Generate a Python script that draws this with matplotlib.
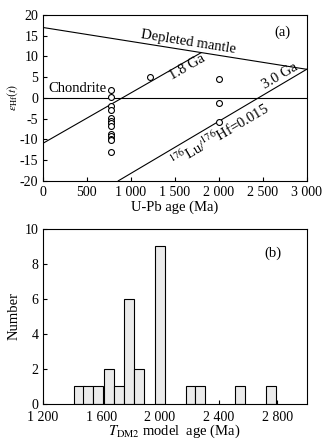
import numpy as np
import matplotlib
matplotlib.use("Agg")
import matplotlib.pyplot as plt
from matplotlib.ticker import FuncFormatter, MultipleLocator

plt.rcParams['font.family'] = ['Liberation Serif', 'DejaVu Serif']
plt.rcParams['mathtext.fontset'] = 'stix'
plt.rcParams['font.size'] = 10

# (a) zircon Hf data
age_pts = [780, 780, 780, 780, 780, 780, 780, 780, 780, 780, 780, 780, 780,
           1220, 2000, 2000, 2000]
ehf_pts = [1.8, 0.1, -1.9, -2.9, -4.9, -5.5, -6.0, -6.7, -8.8, -9.3, -9.8, -10.2, -13.1,
           5.1, 4.5, -1.2, -5.7]

# reference lines
dm_x = [0, 3000]
dm_y = [17.0, 6.9]
ga18_x = [0, 1800]
ga18_y = [-11.0, 10.9]
ga30_x = [860, 3000]
ga30_y = [-20.0, 6.9]

# (b) TDM2 histogram
bar_centers = [1445, 1512, 1580, 1650, 1720, 1788, 1858, 2000, 2208, 2276, 2548, 2756]
bar_counts = [1, 1, 1, 2, 1, 6, 2, 9, 1, 1, 1, 1]
bar_width = 68


def thousands(v, pos):
    s = f"{int(round(v)):,}".replace(",", " ")
    return s.replace("\u2212", "-")


fig = plt.figure(figsize=(3.28, 4.41), dpi=100)
ax1 = fig.add_axes([0.130, 0.590, 0.805, 0.376])
ax2 = fig.add_axes([0.130, 0.085, 0.805, 0.396])

lw = 0.8
ax1.plot(dm_x, dm_y, color="black", lw=lw)
ax1.plot(ga18_x, ga18_y, color="black", lw=lw)
ax1.plot(ga30_x, ga30_y, color="black", lw=lw)
ax1.axhline(0, color="black", lw=lw)
ax1.scatter(age_pts, ehf_pts, s=18, facecolors="white", edgecolors="black",
            linewidths=0.8, zorder=3)
ax1.set_xlim(0, 3000)
ax1.set_ylim(-20, 20)
ax1.xaxis.set_major_locator(MultipleLocator(500))
ax1.yaxis.set_major_locator(MultipleLocator(5))
ax1.xaxis.set_major_formatter(FuncFormatter(thousands))
ax1.yaxis.set_major_formatter(FuncFormatter(lambda v, p: f"{int(v)}"))
ax1.set_xlabel("U-Pb age (Ma)", labelpad=1, fontsize=10.5)
ax1.set_ylabel(r"$\varepsilon_{\rm Hf}(t)$", labelpad=0, fontsize=8.5)


def line_angle(ax, xs, ys):
    p = ax.transData.transform(np.column_stack([xs, ys]))
    return np.degrees(np.arctan2(p[1, 1] - p[0, 1], p[1, 0] - p[0, 0]))


a_dm = line_angle(ax1, dm_x, dm_y)
a_18 = line_angle(ax1, ga18_x, ga18_y)
a_30 = line_angle(ax1, ga30_x, ga30_y)

ax1.text(1640, 12.0, "Depleted mantle", rotation=a_dm, rotation_mode="anchor",
         ha="center", va="bottom", fontsize=10.5)
ax1.text(1640, 7.3, "1.8 Ga", rotation=a_18, rotation_mode="anchor",
         ha="center", va="center", fontsize=10.5)
ax1.text(2730, 3.9, "3.0 Ga", rotation=a_30, rotation_mode="anchor",
         ha="center", va="bottom", fontsize=10.5)
ax1.text(1960, -7.2, r"$^{176}$Lu/$^{176}$Hf=0.015", rotation=a_30, rotation_mode="anchor",
         ha="center", va="top", fontsize=10.5)
ax1.text(60, 2.2, "Chondrite", ha="left", va="center", fontsize=10.5)
ax1.text(2730, 15.8, "(a)", ha="center", va="center", fontsize=10.5)

ax2.bar(bar_centers, bar_counts, width=bar_width, color="#ebebeb",
        edgecolor="black", linewidth=0.8)
ax2.set_xlim(1200, 3000)
ax2.set_ylim(0, 10)
ax2.set_axisbelow(True)
ax2.xaxis.set_major_locator(MultipleLocator(400))
ax2.yaxis.set_major_locator(MultipleLocator(2))
ax2.xaxis.set_major_formatter(FuncFormatter(thousands))
ax2.set_xlabel(r"$T_{\rm DM2}$ model  age (Ma)", labelpad=-1, fontsize=10.5)
ax2.set_ylabel("Number", labelpad=3, fontsize=10.5)
ax2.text(2770, 8.6, "(b)", ha="center", va="center", fontsize=10.5)

for ax in [ax1, ax2]:
    ax.tick_params(direction="in", length=3, width=0.8, labelsize=10)
    ax.tick_params(axis="x", pad=4)
    ax.tick_params(axis="y", pad=3)
    for sp in ax.spines.values():
        sp.set_linewidth(0.8)
        sp.set_zorder(3)
ax2.tick_params(axis="x", pad=5.5)

plt.savefig("out.png", dpi=100)
plt.close()
